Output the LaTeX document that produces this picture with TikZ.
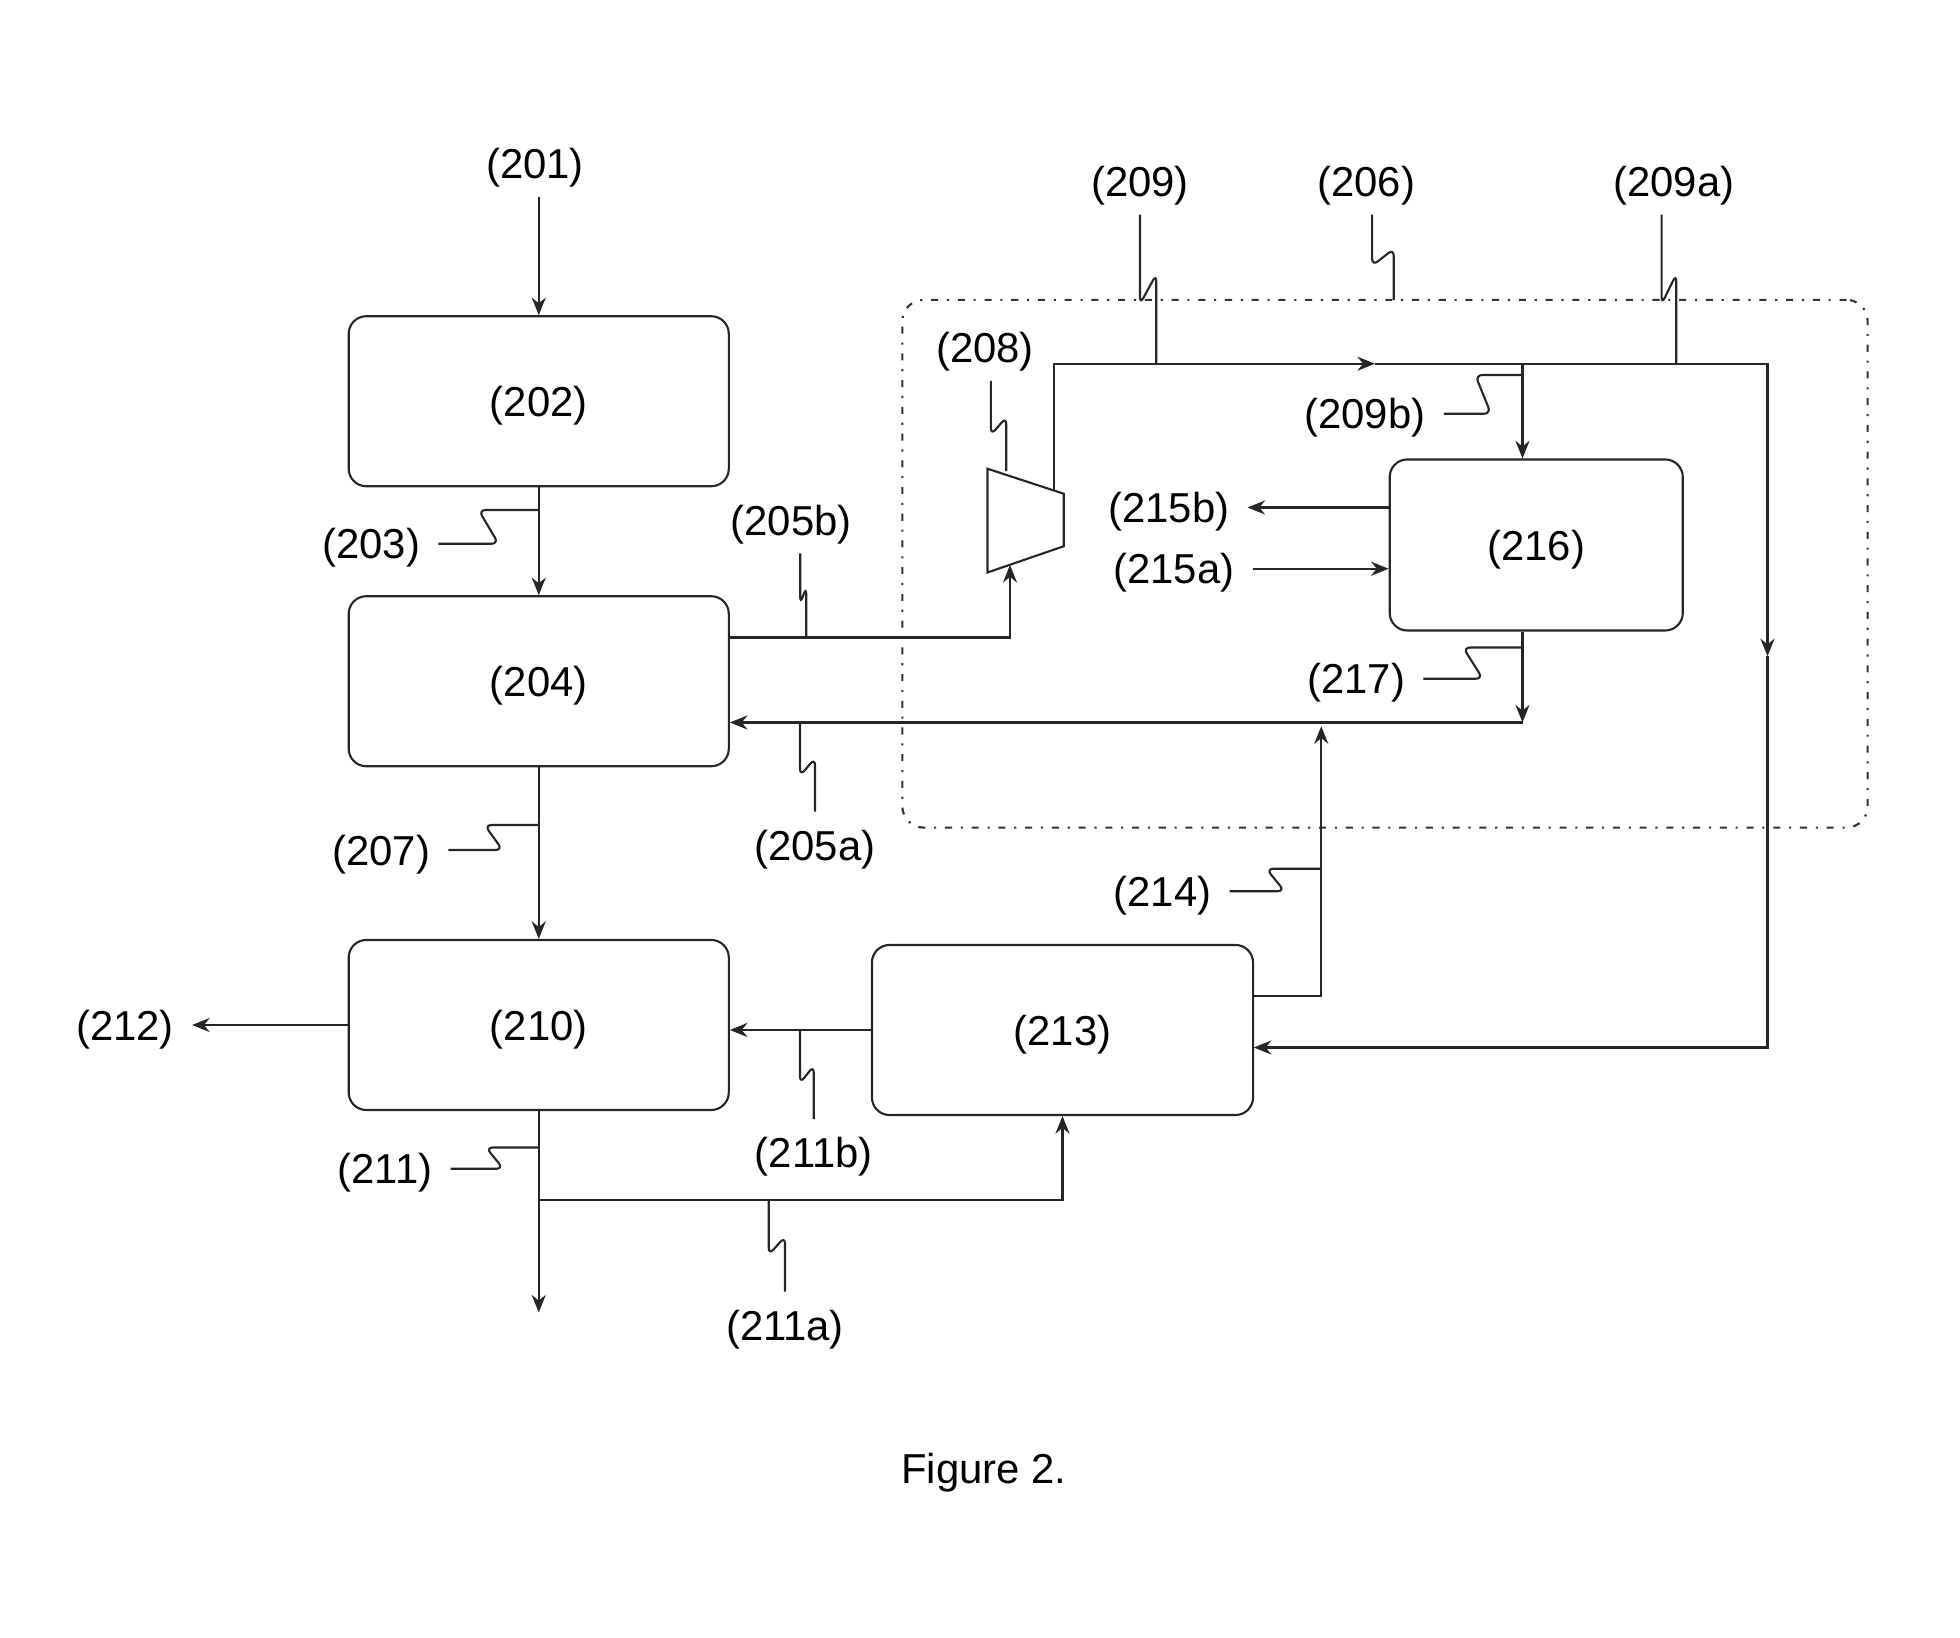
\documentclass[tikz,border=0pt]{standalone}
\usepackage{fontspec}
\setmainfont{Liberation Sans}
\usetikzlibrary{arrows.meta,calc}

\begin{document}
\begin{tikzpicture}[x=0.0125cm, y=-0.0125cm,
  every node/.style={font=\fontsize{11.9}{14}\selectfont, text depth=0pt},
  line/.style={draw=black!85, line width=0.6pt},
  flow/.style={line, -{Stealth[length=5pt,width=4pt]}},
  unit/.style={line, rounded corners=5pt, minimum width=3.8cm, minimum height=1.7cm},
  frame/.style={draw=black!80, line width=0.6pt, dash pattern=on 2pt off 2.5pt on 0.6pt off 2.5pt,
    rounded corners=6pt, minimum width=9.65cm, minimum height=5.275cm, inner sep=0pt},
  tag/.style={inner sep=5pt},
  vlead/.style={line, rounded corners=2pt, to path={let \p1=(\tikztostart), \p2=(\tikztotarget) in
    -- ($(\x1,\y1)!0.6!(\x1,\y2)$) -- ($(\x2,\y1)!0.4!(\x2,\y2)$) -- (\tikztotarget)}},
  hlead/.style={line, rounded corners=2pt, to path={let \p1=(\tikztostart), \p2=(\tikztotarget) in
    -- ($(\x1,\y1)!0.6!(\x2,\y1)$) -- ($(\x1,\y2)!0.4!(\x2,\y2)$) -- (\tikztotarget)}}]
  \useasboundingbox (0,0) rectangle (1568,1310);

  % units
  \node[frame] (b206) at (1108,451) {};
  \node[unit] (b202) at (431,321) {(202)};
  \node[unit] (b204) at (431,545) {(204)};
  \node[unit] (b210) at (431,820) {(210)};
  \node[unit, minimum width=3.81cm] (b213) at (850,824) {(213)};
  \node[unit, minimum width=2.93cm, minimum height=1.71cm] (b216) at (1229,436) {(216)};

  % compressor
  \draw[line] (790,375) -- (851,395) -- (851,437) -- (790,458) -- cycle;
  \coordinate (c208in) at (808,452);
  \coordinate (c208out) at (843,392);
  \coordinate (c208top) at (805,377);

  % labels
  \node[tag] (l201) at (428,131) {(201)};
  \node[tag] (l203) at (297,435) {(203)};
  \node[tag] (l205b) at (633,416) {(205b)};
  \node[tag] (l205a) at (652,676) {(205a)};
  \node[tag] (l207) at (305,680) {(207)};
  \node[tag] (l208) at (788,278) {(208)};
  \node[tag] (l209) at (912,145) {(209)};
  \node[tag] (l206) at (1093,145) {(206)};
  \node[tag] (l209a) at (1339,145) {(209a)};
  \node[tag] (l209b) at (1092,331) {(209b)};
  \node[tag] (l215b) at (935,406) {(215b)};
  \node[tag] (l215a) at (939,455) {(215a)};
  \node[tag] (l217) at (1085,543) {(217)};
  \node[tag] (l214) at (930,713) {(214)};
  \node[tag] (l212) at (100,820) {(212)};
  \node[tag] (l211) at (308,935) {(211)};
  \node[tag] (l211b) at (651,922) {(211b)};
  \node[tag] (l211a) at (628,1060) {(211a)};
  \node (fig) at (787,1175) {Figure 2.};

  % points on the lines
  \coordinate (s205b) at (583,510);
  \coordinate (k209) at (1100,291);
  \coordinate (j209b) at (1218,291);
  \coordinate (k209a) at (1414,525);
  \coordinate (e213) at (1003,838);
  \coordinate (k217) at (1218,578);
  \coordinate (s214) at (1003,797);
  \coordinate (k214) at (1057,581);
  \coordinate (j211) at (431,960);
  \coordinate (out211) at (431,1050);

  % streams
  \draw[flow] (l201.south -| b202.north) -- (b202.north);
  \draw[flow] (b202) -- (b204);
  \draw[flow] (b204) -- (b210);
  \draw[flow] (b210) -- (l212.east);
  \draw[flow] (b213.west) -- (b213.west -| b210.east);
  \draw[flow] (b210) -- (out211);
  \draw[flow] (j211) -| (b213);
  \draw[flow] (s205b) -| (c208in);
  \draw[flow] (c208out) |- (k209);
  \draw[flow] (k209) -| (k209a);
  \draw[flow] (k209a) |- (e213);
  \draw[flow] (j209b) -- (j209b |- b216.north);
  \draw[flow] (l215b.east -| b216.west) -- (l215b.east);
  \draw[flow] (l215a.east) -- (l215a.east -| b216.west);
  \draw[flow] (k217 |- b216.south) -- (k217);
  \draw[flow] (k217) -- (k217 -| b204.east);
  \draw[flow] (s214) -| (k214);

  % leaders
  \draw[hlead] (l203.east) to (431,408);
  \draw[hlead] (l207.east) to (431,660);
  \draw[hlead] (l211.east) to (431,918);
  \draw[hlead] (l209b.east) to (1218,300);
  \draw[hlead] (l217.east) to (1218,518);
  \draw[hlead] (l214.east) to (1057,695);
  \draw[vlead] (l209.south) to (925,291);
  \draw[vlead] (l206.-80) to (1115,240);
  \draw[vlead] (l209a.-110) to (1341,291);
  \draw[vlead] (l208.-80) to (c208top);
  \draw[vlead] (l205b.-75) to (645,510);
  \draw[vlead] (l205a.north) to (640,578);
  \draw[vlead] (l211b.north) to (640,824);
  \draw[vlead] (l211a.north) to (615,960);
\end{tikzpicture}
\end{document}
